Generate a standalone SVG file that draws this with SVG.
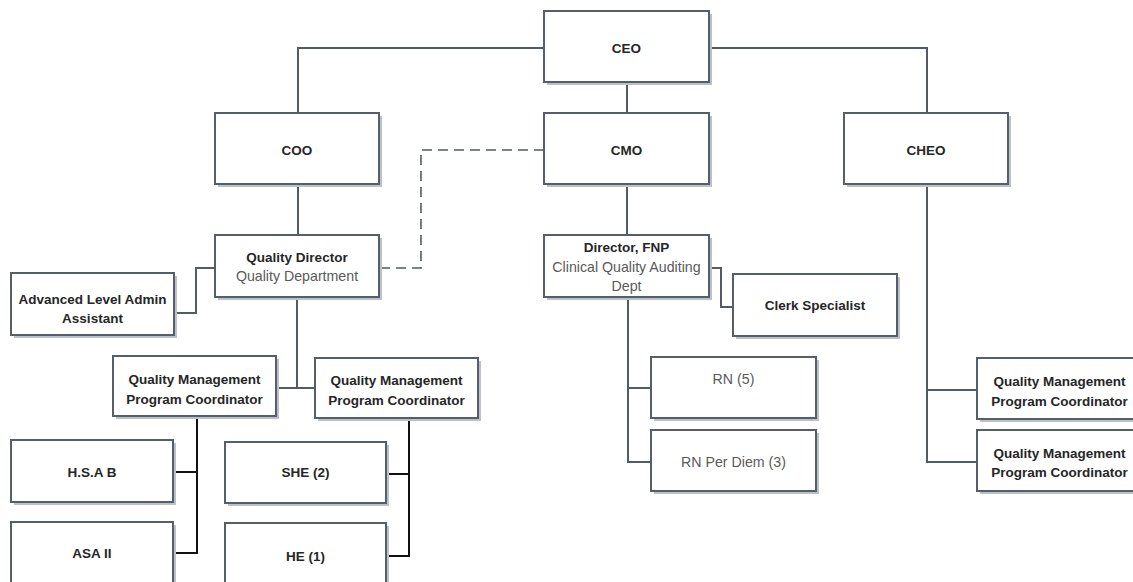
<svg xmlns="http://www.w3.org/2000/svg" width="1133" height="582" viewBox="0 0 1133 582">
<style>
.sh{fill:#bcc0c8;}
.bx{fill:#ffffff;stroke:#565e6c;stroke-width:2;}
.ln{fill:none;stroke:#525a68;stroke-width:2;}
.dl{fill:none;stroke:#525a68;stroke-width:1.6;stroke-dasharray:10,6;}
.bl{fill:none;stroke:#111111;stroke-width:2;}
.b{font-family:"Liberation Sans",Arial,sans-serif;font-weight:bold;font-size:13.5px;fill:#262626;text-anchor:middle;dominant-baseline:central;}
.r{font-family:"Liberation Sans",Arial,sans-serif;font-size:14.2px;fill:#5a5a5a;text-anchor:middle;dominant-baseline:central;}
</style>
<rect width="1133" height="582" fill="#ffffff"/>
<g id="connectors">
<path class="ln" d="M298,113 V48 H544"/>
<path class="ln" d="M709,48 H927 V113"/>
<path class="ln" d="M627,82 V113"/>
<path class="ln" d="M298,184 V235"/>
<path class="ln" d="M627,184 V235"/>
<path class="dl" d="M544,150 H421 V268 H379"/>
<path class="ln" d="M215,268 H196 V313 H174"/>
<path class="ln" d="M297,297 V388"/>
<path class="ln" d="M276,388 H315"/>
<path class="ln" d="M709,268 H721 V307 H733"/>
<path class="ln" d="M628,297 V462 H651"/>
<path class="ln" d="M628,388 H651"/>
<path class="ln" d="M927,184 V462 H977"/>
<path class="ln" d="M927,390 H977"/>
<path class="bl" d="M197,416 V553 H173"/>
<path class="bl" d="M197,472 H173"/>
<path class="bl" d="M409,418 V556 H386"/>
<path class="bl" d="M409,474 H386"/>
</g>
<g id="ceo"><rect class="sh" x="547" y="14" width="165" height="71"/><rect class="bx" x="544" y="11" width="165" height="71"/><text class="b" x="626.5" y="48">CEO</text></g>
<g id="coo"><rect class="sh" x="218" y="116" width="164" height="71"/><rect class="bx" x="215" y="113" width="164" height="71"/><text class="b" x="297" y="150">COO</text></g>
<g id="cmo"><rect class="sh" x="547" y="116" width="165" height="71"/><rect class="bx" x="544" y="113" width="165" height="71"/><text class="b" x="626.5" y="150">CMO</text></g>
<g id="cheo"><rect class="sh" x="847" y="116" width="164" height="71"/><rect class="bx" x="844" y="113" width="164" height="71"/><text class="b" x="926" y="150">CHEO</text></g>
<g id="quality-director"><rect class="sh" x="218" y="238" width="164" height="62"/><rect class="bx" x="215" y="235" width="164" height="62"/><text class="b" x="297" y="257">Quality Director</text><text class="r" x="297" y="276">Quality Department</text></g>
<g id="director-fnp"><rect class="sh" x="547" y="238" width="165" height="62"/><rect class="bx" x="544" y="235" width="165" height="62"/><text class="b" x="626.5" y="247">Director, FNP</text><text class="r" x="626.5" y="267">Clinical Quality Auditing</text><text class="r" x="626.5" y="286">Dept</text></g>
<g id="admin-assistant"><rect class="sh" x="14" y="276" width="163" height="62"/><rect class="bx" x="11" y="273" width="163" height="62"/><text class="b" x="92.5" y="299">Advanced Level Admin</text><text class="b" x="92.5" y="318">Assistant</text></g>
<g id="clerk-specialist"><rect class="sh" x="736" y="277" width="164" height="62"/><rect class="bx" x="733" y="274" width="164" height="62"/><text class="b" x="815" y="305">Clerk Specialist</text></g>
<g id="qmpc-1"><rect class="sh" x="116" y="359" width="163" height="60"/><rect class="bx" x="113" y="356" width="163" height="60"/><text class="b" x="194.5" y="379">Quality Management</text><text class="b" x="194.5" y="399">Program Coordinator</text></g>
<g id="qmpc-2"><rect class="sh" x="318" y="361" width="163" height="60"/><rect class="bx" x="315" y="358" width="163" height="60"/><text class="b" x="396.5" y="380">Quality Management</text><text class="b" x="396.5" y="400">Program Coordinator</text></g>
<g id="hsa-b"><rect class="sh" x="14" y="443" width="162" height="62"/><rect class="bx" x="11" y="440" width="162" height="62"/><text class="b" x="92" y="472">H.S.A B</text></g>
<g id="asa-ii"><rect class="sh" x="14" y="525" width="162" height="62"/><rect class="bx" x="11" y="522" width="162" height="62"/><text class="b" x="92" y="553">ASA II</text></g>
<g id="she-2"><rect class="sh" x="228" y="445" width="161" height="61"/><rect class="bx" x="225" y="442" width="161" height="61"/><text class="b" x="305.5" y="472">SHE (2)</text></g>
<g id="he-1"><rect class="sh" x="228" y="526" width="161" height="62"/><rect class="bx" x="225" y="523" width="161" height="62"/><text class="b" x="305.5" y="556">HE (1)</text></g>
<g id="rn-5"><rect class="sh" x="654" y="360" width="165" height="61"/><rect class="bx" x="651" y="357" width="165" height="61"/><text class="r" x="733.5" y="379">RN (5)</text></g>
<g id="rn-per-diem"><rect class="sh" x="654" y="433" width="165" height="61"/><rect class="bx" x="651" y="430" width="165" height="61"/><text class="r" x="733.5" y="462">RN Per Diem (3)</text></g>
<g id="qmpc-3"><rect class="sh" x="980" y="361" width="165" height="61"/><rect class="bx" x="977" y="358" width="165" height="61"/><text class="b" x="1059.5" y="381">Quality Management</text><text class="b" x="1059.5" y="401">Program Coordinator</text></g>
<g id="qmpc-4"><rect class="sh" x="980" y="433" width="165" height="61"/><rect class="bx" x="977" y="430" width="165" height="61"/><text class="b" x="1059.5" y="453">Quality Management</text><text class="b" x="1059.5" y="472">Program Coordinator</text></g>
</svg>
